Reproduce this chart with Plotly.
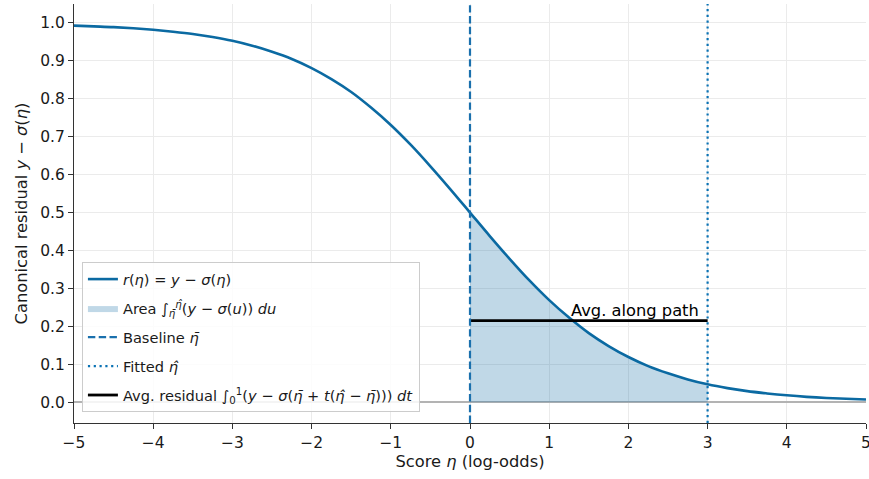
import plotly.graph_objects as go

# Data
eta = [-5.0, -4.75, -4.5, -4.25, -4.0, -3.75, -3.5, -3.25, -3.0, -2.75, -2.5, -2.25,
       -2.0, -1.75, -1.5, -1.25, -1.0, -0.75, -0.5, -0.25, 0.0, 0.25, 0.5, 0.75,
       1.0, 1.25, 1.5, 1.75, 2.0, 2.25, 2.5, 2.75, 3.0, 3.25, 3.5, 3.75, 4.0,
       4.25, 4.5, 4.75, 5.0]
residual = [0.993, 0.991, 0.989, 0.986, 0.982, 0.977, 0.971, 0.963, 0.953, 0.940,
            0.924, 0.905, 0.881, 0.852, 0.818, 0.777, 0.731, 0.679, 0.622, 0.562,
            0.500, 0.438, 0.378, 0.321, 0.269, 0.223, 0.182, 0.148, 0.119, 0.095,
            0.076, 0.060, 0.047, 0.037, 0.029, 0.023, 0.018, 0.014, 0.011, 0.009,
            0.007]
baseline_eta = 0.0
fitted_eta = 3.0
avg_residual = 0.215
x_ticks = [-5, -4, -3, -2, -1, 0, 1, 2, 3, 4, 5]
y_ticks = [0.0, 0.1, 0.2, 0.3, 0.4, 0.5, 0.6, 0.7, 0.8, 0.9, 1.0]

BLUE = "#0b6aa2"
FONT = "DejaVu Sans"
TXT = "#1a1a1a"

area_x = [e for e in eta if baseline_eta <= e <= fitted_eta]
area_y = [r for e, r in zip(eta, residual) if baseline_eta <= e <= fitted_eta]

fig = go.Figure()

fig.add_trace(go.Scatter(
    x=eta, y=residual, mode="lines", line=dict(color=BLUE, width=2.6, shape="spline"),
    legendgroup="g1",
    name="<i>r</i>(<i>η</i>) = <i>y</i> − <i>σ</i>(<i>η</i>)", legendrank=1))

fig.add_trace(go.Scatter(
    x=area_x, y=area_y, mode="lines", fill="tozeroy", line=dict(width=0, shape="spline"),
    fillcolor="rgba(11,106,162,0.26)", legendgroup="g2",
    name="Area ∫<sub><i>η̄</i></sub><sup><i>η̂</i></sup>(<i>y</i> − <i>σ</i>(<i>u</i>)) <i>du</i>",
    legendrank=2, hoverinfo="skip"))

fig.add_trace(go.Scatter(
    x=[baseline_eta, fitted_eta], y=[avg_residual, avg_residual], mode="lines",
    line=dict(color="black", width=2.8), legendgroup="g5",
    name="Avg. residual ∫<sub>0</sub><sup>1</sup>(<i>y</i> − <i>σ</i>(<i>η̄</i> + <i>t</i>(<i>η̂</i> − <i>η̄</i>))) <i>dt</i>",
    legendrank=5))

fig.add_shape(type="line", x0=baseline_eta, x1=baseline_eta, y0=0, y1=1,
              xref="x", yref="y domain", line=dict(color="#1a70ad", width=2.2, dash="7.4px,3.4px"),
              showlegend=True, name="Baseline <i>η̄</i>", legendrank=3, legendgroup="g3")
fig.add_shape(type="line", x0=fitted_eta, x1=fitted_eta, y0=0, y1=1,
              xref="x", yref="y domain", line=dict(color="#0a72b4", width=2.2, dash="2.2px,3.6px"),
              showlegend=True, name="Fitted <i>η̂</i>", legendrank=4, legendgroup="g4")

fig.add_annotation(x=fitted_eta - 0.08, y=avg_residual, text="Avg. along path",
                   showarrow=False, xanchor="right", yanchor="bottom", yshift=-1,
                   font=dict(family=FONT, size=16.3, color="black"))

fig.update_layout(
    width=869, height=479,
    margin=dict(l=74, r=3, t=4, b=56, autoexpand=False),
    paper_bgcolor="white", plot_bgcolor="white",
    font=dict(family=FONT, size=15, color=TXT),
    showlegend=True,
    legend=dict(x=0.01, y=0.026, xanchor="left", yanchor="bottom",
                bgcolor="rgba(255,255,255,0.85)", bordercolor="#cccccc", borderwidth=1,
                font=dict(family=FONT, size=14.6, color=TXT), tracegroupgap=7,
                traceorder="grouped"),
)

fig.update_xaxes(
    range=[-5, 5], tickvals=x_ticks, ticktext=[("−" + str(-t)) if t < 0 else str(t) for t in x_ticks],
    showgrid=True, gridcolor="#ebebeb", gridwidth=1, zeroline=False, automargin=False,
    showline=True, linecolor="#333", linewidth=1.1, mirror=False,
    ticks="outside", ticklen=5, tickcolor="#333", tickfont=dict(family=FONT, size=15.5, color=TXT),
    ticklabeloverflow="allow",
    title=dict(text="Score <i>η</i> (log-odds)", font=dict(family=FONT, size=16.3, color=TXT), standoff=4))
fig.update_yaxes(
    range=[-0.055, 1.05], tickvals=y_ticks, ticktext=[f"{t:.1f}" for t in y_ticks],
    showgrid=True, gridcolor="#ebebeb", gridwidth=1, automargin=False,
    zeroline=True, zerolinecolor="#b3b3b3", zerolinewidth=1.6,
    showline=True, linecolor="#333", linewidth=1.1, mirror=False,
    ticks="outside", ticklen=5, tickcolor="#333", tickfont=dict(family=FONT, size=15.5, color=TXT),
    title=dict(text="Canonical residual <i>y</i> − <i>σ</i>(<i>η</i>)", font=dict(family=FONT, size=16.3, color=TXT), standoff=8))

fig.write_html("out.html")
